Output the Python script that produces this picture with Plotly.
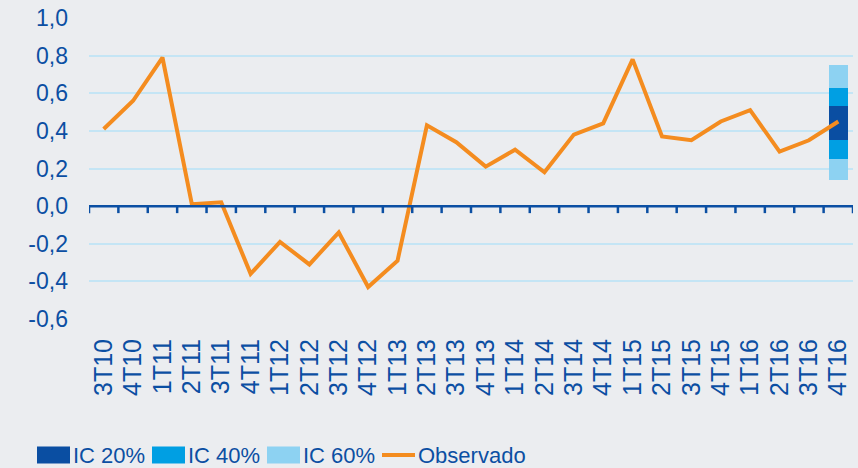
import plotly.graph_objects as go

categories = ["3T10", "4T10", "1T11", "2T11", "3T11", "4T11", "1T12", "2T12", "3T12",
              "4T12", "1T13", "2T13", "3T13", "4T13", "1T14", "2T14", "3T14", "4T14",
              "1T15", "2T15", "3T15", "4T15", "1T16", "2T16", "3T16", "4T16"]
observado = [0.41, 0.56, 0.79, 0.01, 0.02, -0.36, -0.19, -0.31, -0.14, -0.43, -0.29,
             0.43, 0.34, 0.21, 0.30, 0.18, 0.38, 0.44, 0.78, 0.37, 0.35, 0.45, 0.51,
             0.29, 0.35, 0.45]

# confidence bands for the last quarter (low, high)
band_names = ["IC 60%", "IC 40%", "IC 20%"]
band_low = [0.14, 0.25, 0.35]
band_high = [0.75, 0.63, 0.53]
band_colors = ["#8dd2f2", "#009fe3", "#0a4ea2"]

y_tickvals = [-0.6, -0.4, -0.2, 0.0, 0.2, 0.4, 0.6, 0.8, 1.0]
y_ticktext = ["-0,6", "-0,4", "-0,2", "0,0", "0,2", "0,4", "0,6", "0,8", "1,0"]

BLUE = "#0b4fa3"
ORANGE = "#f48c1f"
BG = "#ebedf0"

fig = go.Figure()
for name, lo, hi, col in zip(band_names, band_low, band_high, band_colors):
    fig.add_trace(go.Bar(x=[categories[-1]], y=[hi - lo], base=[lo], name=name,
                         marker=dict(color=col, line=dict(width=0)), width=0.65,
                         showlegend=False, hoverinfo="skip"))
fig.add_trace(go.Scatter(x=categories, y=observado, mode="lines", name="Observado",
                         line=dict(color=ORANGE, width=4), showlegend=False))

shapes = []
# tick marks hanging below the zero line at category boundaries
for i in range(len(categories) + 1):
    shapes.append(dict(type="line", xref="x", yref="y", ysizemode="pixel", yanchor=0,
                       x0=i - 0.5, x1=i - 0.5, y0=0, y1=-7,
                       line=dict(color=BLUE, width=2.5)))
shapes.append(dict(type="line", xref="x", yref="y", x0=-0.5, x1=len(categories) - 0.5,
                   y0=0, y1=0, line=dict(color=BLUE, width=2.5)))

# custom legend
L, R, T, B = 89, 853, 18, 319
def px(x):
    return (x - L) / (R - L)
def py(y):
    return (B - y) / (B - T)

annotations = []
legend_items = [("IC 20%", band_colors[2], 37, "box"),
                ("IC 40%", band_colors[1], 152, "box"),
                ("IC 60%", band_colors[0], 267, "box"),
                ("Observado", ORANGE, 382, "line")]
ly = 455
for name, col, x0, kind in legend_items:
    if kind == "box":
        shapes.append(dict(type="rect", xref="paper", yref="paper",
                           x0=px(x0), x1=px(x0 + 33), y0=py(ly + 8.5), y1=py(ly - 8.5),
                           fillcolor=col, line=dict(width=0)))
    else:
        shapes.append(dict(type="line", xref="paper", yref="paper",
                           x0=px(x0), x1=px(x0 + 33), y0=py(ly), y1=py(ly),
                           line=dict(color=col, width=4)))
    annotations.append(dict(text=name, xref="paper", yref="paper", x=px(x0 + 34), y=py(ly),
                            xanchor="left", yanchor="middle", showarrow=False,
                            font=dict(family="Liberation Sans, Arial, sans-serif",
                                      size=22, color=BLUE)))

fig.update_layout(
    width=858, height=468,
    margin=dict(l=L, r=858 - R, t=T, b=468 - B),
    paper_bgcolor=BG, plot_bgcolor=BG,
    barmode="overlay", bargap=0,
    showlegend=False,
    shapes=shapes, annotations=annotations,
    font=dict(family="Liberation Sans, Arial, sans-serif", color=BLUE),
)
fig.update_xaxes(type="category", categoryorder="array", categoryarray=categories,
                 tickmode="array", tickvals=categories, ticktext=categories,
                 range=[-0.5, len(categories) - 0.5], showgrid=False, showline=False,
                 zeroline=False, ticks="", tickangle=-90, tickfont=dict(size=25, color=BLUE),
                 ticklabelstandoff=14)
fig.update_yaxes(range=[-0.6, 1.0], tickvals=y_tickvals, ticktext=y_ticktext,
                 showgrid=True, gridcolor="#c4e5f5", gridwidth=1.5, zeroline=False,
                 showline=False, ticks="", tickfont=dict(size=23, color=BLUE),
                 ticklabelstandoff=20)

fig.write_html("out.html", config={"displayModeBar": False},
               post_script="document.body.style.margin='0';document.body.style.background='" + BG + "';")
